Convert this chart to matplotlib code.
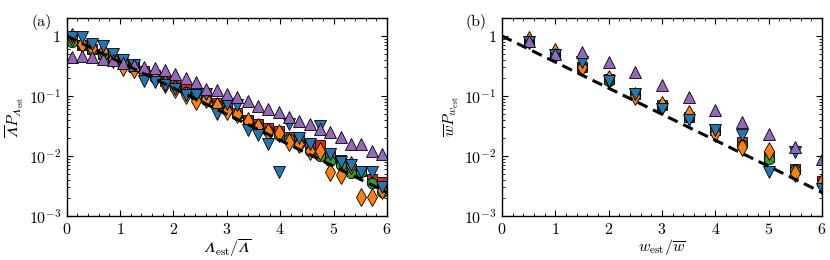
import numpy as np
import matplotlib
matplotlib.use("Agg")
import matplotlib.pyplot as plt
from matplotlib.ticker import FixedLocator, FixedFormatter, MultipleLocator, LogLocator, NullFormatter

plt.rcParams.update({
    "font.family": "serif",
    "font.serif": ["cmr10", "DejaVu Serif"],
    "mathtext.fontset": "custom",
    "mathtext.rm": "cmr10",
    "mathtext.it": "cmmi10",
    "mathtext.bf": "cmb10",
    "mathtext.sf": "cmss10",
    "mathtext.tt": "cmtt10",
    "mathtext.cal": "cmsy10",
    "mathtext.fallback": "stix",
    "axes.formatter.use_mathtext": True,
    "font.size": 11.5,
})

# panel (a): Lambda_est / mean Lambda
xa = [0.10, 0.29, 0.48, 0.68, 0.87, 1.06, 1.26, 1.45, 1.65, 1.84, 2.03, 2.23, 2.42, 2.61, 2.81,
      3.00, 3.19, 3.39, 3.58, 3.77, 3.97, 4.16, 4.35, 4.55, 4.74, 4.94, 5.13, 5.32, 5.52, 5.71, 5.90]
red_a = [0.85, 0.72, 0.60, 0.50, 0.42, 0.36, 0.31, 0.26, 0.22, 0.18, 0.15, 0.13, 0.11, 0.095, 0.078,
         0.064, 0.053, 0.040, 0.034, 0.029, 0.026, 0.021, 0.019, 0.0166, 0.0155, 0.0100, 0.0086, 0.0062,
         0.0057, 0.0042, 0.0037]
green_a = [0.80, 0.70, 0.58, 0.48, 0.41, 0.35, 0.29, 0.24, 0.20, 0.17, 0.14, 0.115, 0.10, 0.085, 0.070,
           0.058, 0.048, 0.038, 0.032, 0.026, 0.022, 0.019, 0.016, 0.0123, 0.0102, 0.0084, 0.0070, 0.0052,
           0.0054, 0.0035, 0.0025]
orange_a = [0.95, 0.75, 0.62, 0.57, 0.42, 0.30, 0.28, 0.23, 0.20, 0.16, 0.13, 0.105, 0.084, 0.090, 0.069,
            0.057, 0.050, 0.039, 0.030, 0.025, 0.024, 0.017, 0.016, 0.0123, 0.0123, 0.0054, 0.0048, 0.0070,
            0.0021, 0.0021, 0.0027]
blue_a = [0.95, 0.95, 0.75, 0.68, 0.50, 0.40, 0.33, 0.18, 0.17, 0.15, 0.13, 0.105, 0.105, 0.109, 0.050,
          0.074, 0.072, 0.027, 0.022, 0.016, 0.0054, 0.034, 0.020, 0.016, 0.032, 0.011, 0.008, 0.007,
          0.0054, 0.0054, 0.003]
purple_a = [0.45, 0.46, 0.44, 0.42, 0.40, 0.36, 0.33, 0.30, 0.29, 0.27, 0.235, 0.20, 0.172, 0.132, 0.127,
            0.109, 0.098, 0.082, 0.069, 0.061, 0.054, 0.044, 0.039, 0.034, 0.028, 0.025, 0.021, 0.016,
            0.016, 0.0123, 0.011]

# panel (b): w_est / mean w
xb = [0.5, 1.0, 1.5, 2.0, 2.5, 3.0, 3.5, 4.0, 4.5, 5.0, 5.5, 6.0]
red_b = [0.82, 0.50, 0.30, 0.19, 0.107, 0.070, 0.045, 0.027, 0.017, 0.0095, 0.0062, 0.0038]
green_b = [0.80, 0.49, 0.30, 0.18, 0.105, 0.067, 0.044, 0.026, 0.015, 0.0090, 0.0058, 0.0035]
orange_b = [0.85, 0.55, 0.30, 0.19, 0.100, 0.070, 0.050, 0.024, 0.014, 0.0123, 0.0052, 0.0037]
blue_b = [0.80, 0.48, 0.37, 0.18, 0.107, 0.061, 0.040, 0.027, 0.022, 0.0054, 0.0116, 0.0028]
purple_b = [0.82, 0.50, 0.54, 0.376, 0.25, 0.152, 0.096, 0.059, 0.037, 0.0236, 0.014, 0.009]

styles = [("s", "#d62728", 7), ("o", "#2ca02c", 7.5), ("d", "#ff7f0e", 9), ("v", "#1f77b4", 8), ("^", "#9467bd", 8)]

fig = plt.figure(figsize=(8.3, 2.6), dpi=100)
ax_a = fig.add_axes([0.0804, 0.169, 0.3859, 0.762])
ax_b = fig.add_axes([0.6048, 0.169, 0.3855, 0.762])


def draw_panel(ax, x, series):
    for (m, c, ms), y in zip(styles, series):
        ax.plot(x, y, ls="none", marker=m, ms=ms, mfc=c, mec="black", mew=0.6, zorder=2)
    xx = np.linspace(0, 6, 200)
    ax.plot(xx, np.exp(-xx), "k--", lw=2.2, dashes=(3.5, 2), zorder=3)
    ax.set_yscale("log")
    ax.set_xlim(0, 6)
    ax.set_ylim(1e-3, 2)
    ax.xaxis.set_major_locator(MultipleLocator(1))
    ax.xaxis.set_minor_locator(MultipleLocator(0.2))
    ax.yaxis.set_major_locator(FixedLocator([1e-3, 1e-2, 1e-1, 1]))
    ax.yaxis.set_major_formatter(FixedFormatter([r"$10^{-3}$", r"$10^{-2}$", r"$10^{-1}$", r"$1$"]))
    ax.yaxis.set_minor_locator(LogLocator(base=10, subs=np.arange(2, 10), numticks=20))
    ax.yaxis.set_minor_formatter(NullFormatter())
    ax.tick_params(which="both", direction="in", top=True, right=True)
    ax.tick_params(which="major", length=4, width=0.8, pad=4)
    ax.tick_params(which="minor", length=2, width=0.6)
    for s in ax.spines.values():
        s.set_linewidth(1.0)


draw_panel(ax_a, xa, [red_a, green_a, orange_a, blue_a, purple_a])
draw_panel(ax_b, xb, [red_b, green_b, orange_b, blue_b, purple_b])

lam = "\U0001D6EC"  # mathematical italic capital lambda
ax_a.set_xlabel("$" + lam + r"_\mathrm{est}/\overline{" + lam + "}$", labelpad=0)
ax_a.set_ylabel(r"$\overline{" + lam + "}P_{" + lam + r"_\mathrm{est}}$", labelpad=2)
ax_b.set_xlabel(r"$w_\mathrm{est}/\overline{w}$", labelpad=0)
ax_b.set_ylabel(r"$\overline{w}P_{w_\mathrm{est}}$", labelpad=2)

fig.text(42 / 830, 1 - 22 / 260, "(a)", ha="center", va="center")
fig.text(476 / 830, 1 - 22 / 260, "(b)", ha="center", va="center")

fig.savefig("out.png", dpi=100)
